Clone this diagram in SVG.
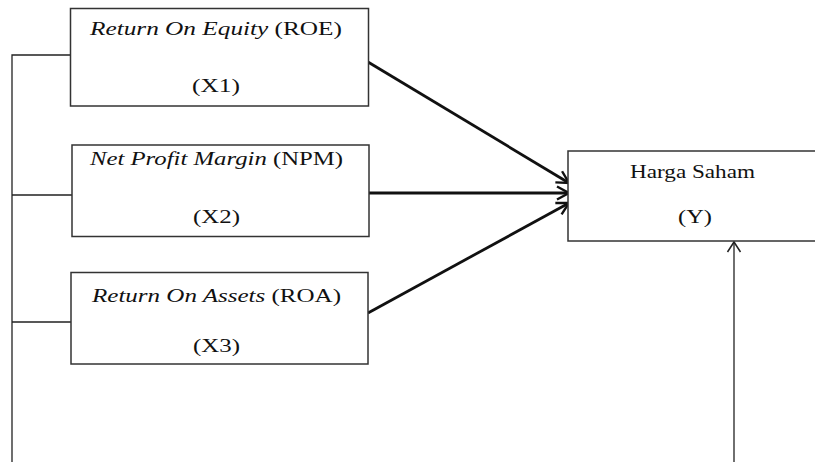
<svg xmlns="http://www.w3.org/2000/svg" width="815" height="462" viewBox="0 0 815 462">
<defs>
<style>
.box{fill:#fff;stroke:#333;stroke-width:1.5}
.t{font-family:"Liberation Serif","Times New Roman",serif;font-size:19px;fill:#111}
.i{font-style:italic}
.thin{stroke:#222;stroke-width:1.3;fill:none}
.thick{stroke:#111;stroke-width:2.8;fill:none}
</style>
<marker id="ah" markerUnits="userSpaceOnUse" markerWidth="16" markerHeight="16" viewBox="-14 -8 16 16" refX="0" refY="0" orient="auto">
<path d="M-12,-6.5 L0,0 L-12,6.5" fill="none" stroke="#111" stroke-width="2.4"/>
</marker>
<marker id="ah2" markerUnits="userSpaceOnUse" markerWidth="16" markerHeight="16" viewBox="-14 -8 16 16" refX="0" refY="0" orient="auto">
<path d="M-10,-6.5 L0,0 L-10,6.5" fill="none" stroke="#222" stroke-width="1.5"/>
</marker>
</defs>
<rect width="815" height="462" fill="#fff"/>
<g id="connectors">
<path class="thin" d="M12,462 V55 H70 M12,195 H72 M12,322 H71"/>
<line class="thick" x1="368" y1="62" x2="569" y2="183" marker-end="url(#ah)"/>
<line class="thick" x1="369" y1="193" x2="569" y2="193" marker-end="url(#ah)"/>
<line class="thick" x1="368" y1="313" x2="569" y2="203" marker-end="url(#ah)"/>
<line class="thin" x1="734" y1="462" x2="734" y2="242" stroke-width="1.5" marker-end="url(#ah2)"/>
</g>
<g id="roe">
<rect class="box" x="70.5" y="8.5" width="298" height="97.5"/>
<text class="t" x="90" y="35" textLength="252" lengthAdjust="spacingAndGlyphs"><tspan class="i">Return On Equity</tspan> (ROE)</text>
<text class="t" x="192" y="92" textLength="48" lengthAdjust="spacingAndGlyphs">(X1)</text>
</g>
<g id="npm">
<rect class="box" x="72" y="145" width="297" height="91.5"/>
<text class="t" x="90" y="165" textLength="253" lengthAdjust="spacingAndGlyphs"><tspan class="i">Net Profit Margin</tspan> (NPM)</text>
<text class="t" x="193" y="223" textLength="47" lengthAdjust="spacingAndGlyphs">(X2)</text>
</g>
<g id="roa">
<rect class="box" x="71" y="272.5" width="297" height="91.5"/>
<text class="t" x="92" y="301.5" textLength="249" lengthAdjust="spacingAndGlyphs"><tspan class="i">Return On Assets</tspan> (ROA)</text>
<text class="t" x="193" y="351.5" textLength="47" lengthAdjust="spacingAndGlyphs">(X3)</text>
</g>
<g id="harga">
<rect class="box" x="568" y="151" width="260" height="90"/>
<text class="t" x="630" y="178" textLength="125" lengthAdjust="spacingAndGlyphs">Harga Saham</text>
<text class="t" x="678" y="223" textLength="34" lengthAdjust="spacingAndGlyphs">(Y)</text>
</g>
</svg>
